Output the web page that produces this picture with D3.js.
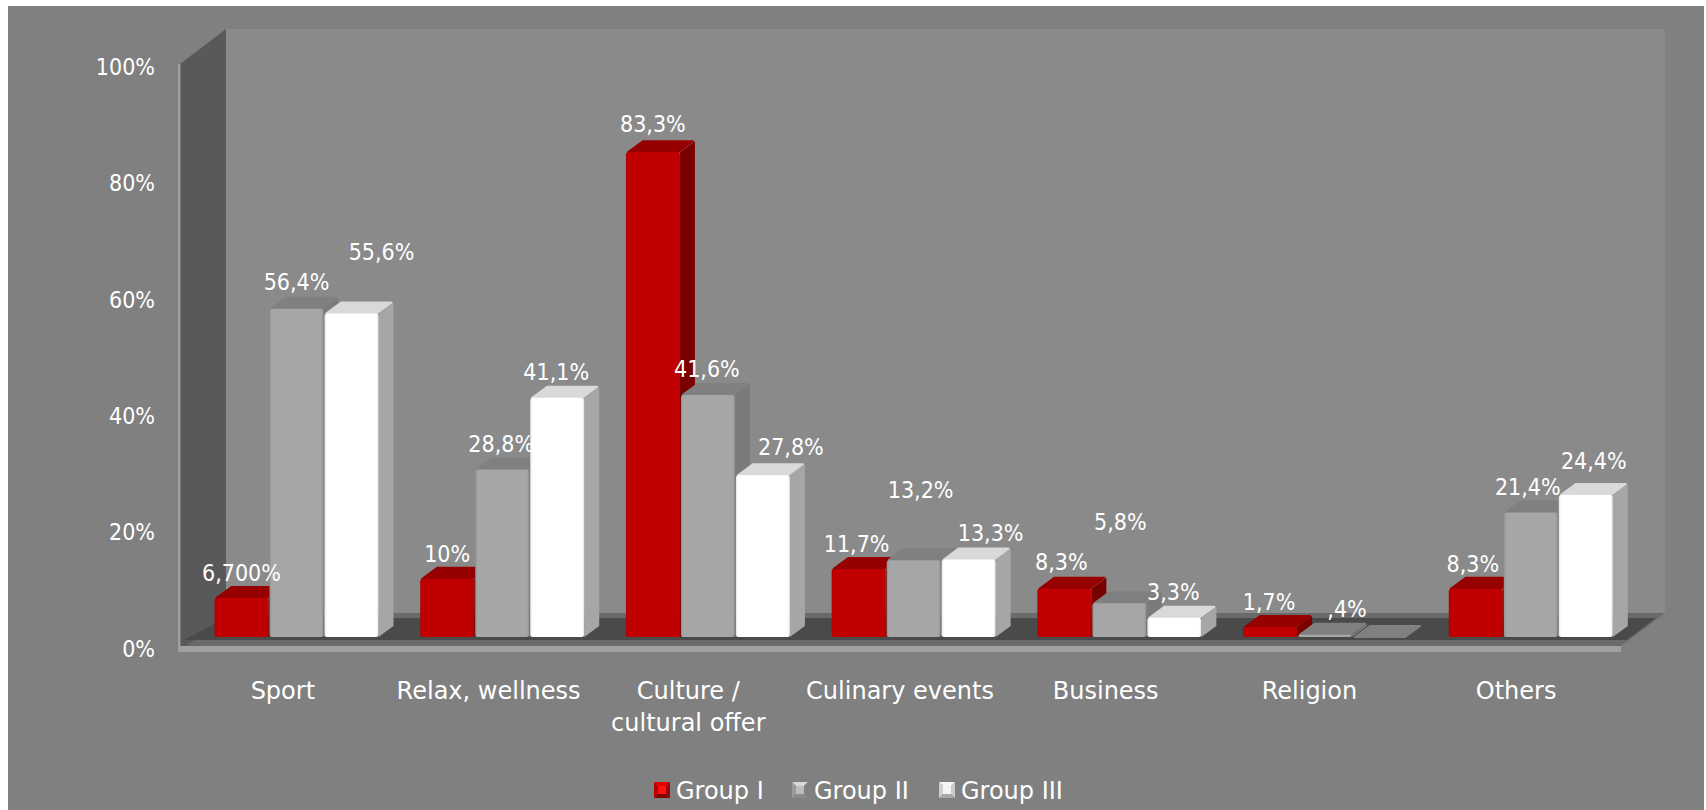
<!DOCTYPE html>
<html>
<head>
<meta charset="utf-8">
<script src="https://cdn.jsdelivr.net/npm/d3@7/dist/d3.min.js"></script>
<style>
html, body { margin: 0; padding: 0; background: #fff; overflow: hidden; }
text { font-family: "DejaVu Sans Condensed", "DejaVu Sans", sans-serif; fill: #fff; }
text.words, .words text { font-family: "DejaVu Sans", sans-serif; }
</style>
</head>
<body>
<svg id="chart" width="1706" height="810"></svg>
<script>
// Chart data
const categories = ["Sport", "Relax, wellness", "Culture /\ncultural offer", "Culinary events", "Business", "Religion", "Others"];
const groups = ["Group I", "Group II", "Group III"];
const groupOne = [6.7, 10, 83.3, 11.7, 8.3, 1.7, 8.3];
const groupTwo = [56.4, 28.8, 41.6, 13.2, 5.8, 0.4, 21.4];
const groupThree = [55.6, 41.1, 27.8, 13.3, 3.3, 0, 24.4];
const labelsOne = ["6,700%", "10%", "83,3%", "11,7%", "8,3%", "1,7%", "8,3%"];
const labelsTwo = ["56,4%", "28,8%", "41,6%", "13,2%", "5,8%", ",4%", "21,4%"];
const labelsThree = ["55,6%", "41,1%", "27,8%", "13,3%", "3,3%", "", "24,4%"];
const yTicks = [0, 20, 40, 60, 80, 100];

// Hand placement of the value labels: sideways and upward nudges per series
const nudgeX = [
  [0, 0, 0, -2, -3, -1, -3],
  [0, -1, -1, 7, 1, 22, -3],
  [30, -1, 28, 22, -1, 0, 8]
];
const nudgeY = [
  [25, 25, 28, 25, 27, 25, 25],
  [27, 26, 26, 70, 82, 26, 26],
  [62, 26, 28, 27, 26, 0, 34]
];
// Sideways nudge for the category labels
const categoryNudge = [0, 0, -6, 0, 0, -2, -1];

const seriesValues = [groupOne, groupTwo, groupThree];
const seriesLabels = [labelsOne, labelsTwo, labelsThree];

const palette = [
  { front: "#c00000", edge: "#b00000", top: "#960000", side: "#7a0000" },
  { front: "#a6a6a6", edge: "#8e8e8e", top: "#808080", side: "#7a7a7a" },
  { front: "#ffffff", edge: "#e4e4e4", top: "#d9d9d9", side: "#a6a6a6" }
];

const svg = d3.select("#chart");
const defs = svg.append("defs");

// Scales: the axis runs along the front edge of the box, bars stand slightly behind it
const x = d3.scaleBand().domain(categories).range([180, 1620]);
const y = d3.scaleLinear().domain([0, 100]).range([646, 64]);
const inner = d3.scaleBand().domain(d3.range(3)).range([34, 199]);
const baseLift = 9;
const depthX = 15, depthY = 12;

// Chart area
svg.append("rect").attr("x", 8).attr("y", 6).attr("width", 1696).attr("height", 804).attr("fill", "#808080");

// Back wall and its base strip
svg.append("rect").attr("x", 226).attr("y", 29).attr("width", 1439).attr("height", 584).attr("fill", "#8a8a8a");

const poly = (pts, fill) => svg.append("polygon").attr("points", pts.map(p => p.join(",")).join(" ")).attr("fill", fill);

// Floor: lip, dark surface, slanted right edge
poly([[180, 646], [1621, 646], [1665, 613], [226, 613]], "#6a6a6a");
poly([[184, 640], [1627, 640], [1656, 618], [226, 618]], "#4a4a4a");

// Left wall
poly([[180, 64], [226, 29], [226, 618], [180, 650]], "#595959");
poly([[184, 640], [226, 618], [226, 640]], "#4a4a4a");

// Front edges of the box
svg.append("rect").attr("x", 178).attr("y", 646).attr("width", 1443).attr("height", 6).attr("fill", "#a0a0a0");
svg.append("rect").attr("x", 178).attr("y", 64).attr("width", 2.5).attr("height", 588).attr("fill", "#a0a0a0");

// Soft darker edges on the bar fronts
palette.forEach((c, i) => {
  const g = defs.append("linearGradient").attr("id", "front" + i);
  [[0, c.edge], [0.04, c.front], [0.96, c.front], [1, c.edge]].forEach(([o, col]) =>
    g.append("stop").attr("offset", o).attr("stop-color", col));
});

// Bars
const bars = svg.append("g");
categories.forEach((cat, ci) => {
  groups.forEach((_, si) => {
    const v = seriesValues[si][ci];
    const c = palette[si];
    const x0 = x(cat) + inner(si) + 0.5;
    const w = inner.bandwidth() - 1;
    const yb = y(0) - baseLift;
    const yt = y(v) - baseLift;
    const g = bars.append("g").attr("stroke-linejoin", "round");
    // An empty bar only shows a flat grey footprint
    const topFill = v === 0 ? palette[1].top : c.top;
    g.append("polygon")
      .attr("points", [[x0 + w, yt], [x0 + w + depthX, yt - depthY + 1], [x0 + w + depthX, yb - depthY + 1], [x0 + w, yb]].join(" "))
      .attr("fill", v === 0 ? topFill : c.side);
    g.append("polygon")
      .attr("points", [[x0 + 2, yt], [x0 + depthX + 2, yt - depthY + 1], [x0 + w + depthX - 2, yt - depthY + 1], [x0 + w - 2, yt]].join(" "))
      .attr("fill", topFill).attr("stroke", topFill).attr("stroke-width", 2);
    if (v > 0) {
      g.append("rect").attr("x", x0).attr("y", yt).attr("width", w).attr("height", yb - yt)
        .attr("rx", 2.5).attr("fill", `url(#front${si})`);
    }
  });
});

// Value labels
categories.forEach((cat, ci) => {
  groups.forEach((_, si) => {
    const text = seriesLabels[si][ci];
    if (!text) return;
    svg.append("text")
      .attr("x", x(cat) + inner(si) + inner.bandwidth() / 2 + nudgeX[si][ci])
      .attr("y", y(seriesValues[si][ci]) - baseLift - nudgeY[si][ci])
      .attr("dy", "0.36em")
      .attr("text-anchor", "middle")
      .attr("font-size", 23)
      .text(text);
  });
});

// Value axis
const yAxis = d3.axisLeft(y).tickValues(yTicks).tickSize(0).tickFormat(d => d + "%");
const yG = svg.append("g").attr("transform", "translate(155,3)").call(yAxis);
yG.select(".domain").remove();
yG.selectAll("text").attr("x", 0).attr("font-size", 23).attr("fill", "#fff");

// Category axis with two-line labels where needed
const xAxis = d3.axisBottom(x).tickSize(0).tickFormat("");
const xG = svg.append("g").attr("class", "words").attr("transform", "translate(0,690)").call(xAxis);
xG.select(".domain").remove();
xG.selectAll(".tick text").each(function (d, i) {
  const t = d3.select(this).attr("y", 0).attr("dy", null).attr("font-size", 24).attr("fill", "#fff");
  d.split("\n").forEach((line, k) => {
    t.append("tspan").attr("x", categoryNudge[i]).attr("y", k * 32).attr("dy", "0.36em").text(line);
  });
});

// Legend with bevelled swatches
const legendX = [654, 792, 939];
const legendShades = [
  ["#e00000", "#a00000", "#800000", "#b80000", "#ff1010"],
  ["#d8d8d8", "#808080", "#8a8a8a", "#9a9a9a", "#bdbdbd"],
  ["#f5f5f5", "#cccccc", "#a8a8a8", "#d0d0d0", "#f4f4f4"]
];
const legend = svg.append("g").attr("class", "words").attr("transform", "translate(0,782)");
groups.forEach((name, i) => {
  const s = 16, b = 4;
  const g = legend.append("g").attr("transform", `translate(${legendX[i]},0)`);
  const [tp, rt, bt, lf, mid] = legendShades[i];
  const face = (pts, fill) => g.append("polygon").attr("points", pts.join(" ")).attr("fill", fill);
  face([[0, 0], [s, 0], [s - b, b], [b, b]], tp);
  face([[s, 0], [s, s], [s - b, s - b], [s - b, b]], rt);
  face([[0, s], [s, s], [s - b, s - b], [b, s - b]], bt);
  face([[0, 0], [0, s], [b, s - b], [b, b]], lf);
  face([[b, b], [s - b, b], [s - b, s - b], [b, s - b]], mid);
  g.append("text").attr("x", s + 6).attr("y", s / 2).attr("dy", "0.36em").attr("font-size", 24).text(name);
});
</script>
</body>
</html>
